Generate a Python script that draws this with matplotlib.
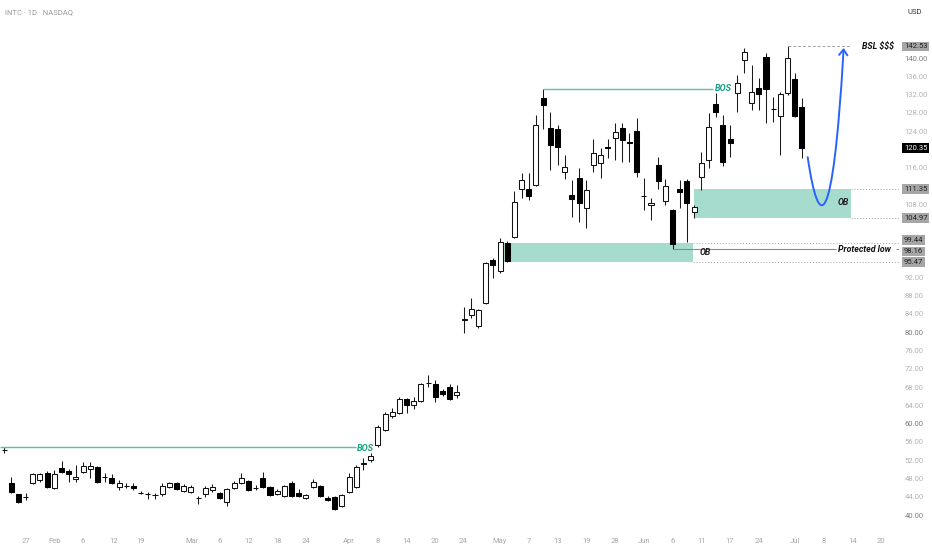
import matplotlib.pyplot as plt
import matplotlib.transforms as mtransforms
from matplotlib.path import Path
from matplotlib.patches import FancyArrowPatch, Rectangle
import numpy as np

plt.rcParams['font.family'] = ['Roboto', 'DejaVu Sans']

# daily candles (bar index on x)
opens = [54.2, 47.01, 44.6, 43.9, 47.01, 47.67, 49.2, 45.91, 50.29, 49.63,
         47.88, 49.42, 50.07, 50.51, 48.4, 48.1, 46.13, 46.3, 46.35, 44.85,
         44.65, 44.3, 44.6, 46.13, 47.01, 45.26, 45.04, 43.7, 44.6, 45.48,
         44.82, 42.85, 45.91, 47.01, 47.45, 45.85, 48.1, 46.13, 44.6, 44.17,
         47.01, 44.82, 43.72, 46.13, 46.35, 43.72, 43.94, 41.97, 45.04, 46.13,
         51.1, 52.04, 55.32, 58.6, 61.67, 62.32, 65.39, 64.08, 64.95, 68.8,
         68.67, 67.14, 68.01, 66.26, 82.6, 83.77, 81.36, 86.39, 95.8, 93.39,
         99.44, 100.83, 111.33, 111.33, 112.21, 131.25, 124.68, 124.46, 115.05, 110.02,
         113.74, 107.18, 116.59, 117.02, 120.53, 122.49, 124.68, 121.62, 124.03, 109.85,
         107.83, 116.59, 108.71, 106.74, 111.33, 113.08, 106.3, 113.96, 117.68, 129.93,
         125.34, 122.28, 132.34, 139.56, 130.15, 133.44, 140.22, 128.9, 127.31, 132.34,
         135.4, 129.28]
highs = [54.9, 48.32, 44.7, 44.82, 49.2, 49.2, 49.63, 49.85, 51.82, 50.07,
         50.95, 51.6, 51.6, 50.73, 49.2, 48.98, 47.67, 47.0, 47.0, 45.2,
         45.0, 44.8, 47.0, 47.23, 47.23, 46.79, 46.57, 44.17, 46.35, 46.79,
         45.04, 45.91, 47.45, 49.2, 47.67, 46.57, 49.42, 46.35, 45.69, 46.57,
         47.45, 45.69, 44.6, 47.88, 46.57, 44.17, 44.17, 44.6, 49.2, 50.95,
         52.47, 53.57, 59.7, 62.54, 63.42, 65.82, 65.6, 65.82, 68.89, 70.64,
         69.54, 67.58, 68.67, 68.45, 85.52, 87.49, 85.0, 95.36, 96.24, 100.62,
         99.96, 110.9, 114.84, 114.84, 127.53, 133.22, 128.18, 125.34, 118.78, 113.3,
         115.93, 113.3, 122.28, 120.31, 122.28, 125.78, 125.78, 123.59, 126.87, 113.74,
         109.37, 118.34, 113.52, 106.9, 113.3, 113.52, 107.83, 119.43, 127.97, 132.34,
         127.53, 125.34, 136.28, 142.19, 138.47, 135.62, 141.09, 131.47, 132.56, 142.53,
         136.72, 131.25]
lows = [53.5, 44.82, 42.6, 43.29, 46.79, 47.23, 45.91, 45.69, 49.2, 47.23,
        47.23, 49.2, 48.1, 47.01, 47.2, 46.79, 45.48, 45.9, 45.48, 44.6,
        43.5, 43.5, 44.17, 45.91, 45.48, 45.04, 44.82, 42.41, 43.94, 45.04,
        43.5, 41.97, 45.69, 46.79, 45.26, 45.48, 45.91, 44.17, 44.38, 43.94,
        43.94, 43.94, 43.5, 45.91, 43.94, 43.07, 41.1, 41.75, 44.82, 45.91,
        49.85, 51.6, 54.88, 58.38, 61.23, 62.1, 62.32, 63.2, 64.73, 68.01,
        64.73, 66.04, 65.17, 65.6, 79.83, 83.11, 80.92, 86.17, 91.86, 92.96,
        95.47, 100.62, 109.37, 108.93, 111.99, 124.46, 115.49, 116.59, 113.52, 105.21,
        104.12, 102.8, 115.05, 113.74, 118.12, 117.68, 117.24, 117.24, 113.96, 106.74,
        104.55, 111.33, 107.83, 98.16, 107.18, 99.74, 104.97, 111.12, 115.93, 127.09,
        116.37, 118.34, 128.18, 136.72, 128.62, 128.62, 125.78, 126.0, 118.78, 131.9,
        127.09, 118.12]
closes = [54.3, 45.04, 42.85, 44.0, 48.98, 48.98, 46.13, 48.98, 49.42, 48.98,
          48.32, 50.73, 50.73, 47.23, 48.3, 47.01, 47.01, 46.4, 45.91, 44.78,
          44.55, 44.4, 46.35, 47.01, 45.69, 46.35, 46.13, 43.8, 45.91, 46.13,
          43.72, 45.69, 47.01, 48.1, 45.48, 45.95, 46.13, 44.38, 45.26, 46.35,
          44.17, 44.17, 44.38, 47.23, 44.17, 43.29, 41.32, 44.38, 48.32, 50.51,
          51.3, 52.91, 59.26, 62.1, 62.54, 65.39, 64.08, 64.95, 68.67, 68.9,
          65.82, 66.48, 65.39, 66.92, 82.8, 85.08, 84.86, 95.14, 94.71, 99.74,
          95.6, 108.49, 113.3, 109.8, 125.34, 129.72, 120.96, 120.53, 116.15, 109.15,
          108.27, 111.12, 119.21, 118.78, 120.31, 123.81, 122.06, 121.4, 115.05, 109.75,
          108.27, 113.08, 111.99, 99.3, 110.68, 108.27, 107.4, 117.02, 124.9, 128.18,
          117.24, 121.4, 134.53, 141.31, 132.56, 132.12, 133.22, 128.8, 132.12, 140.0,
          127.31, 120.35]

# date labels under the bars
date_ticks = [3, 7, 11, 15.2, 19, 26.1, 30, 34, 38, 42, 48, 52, 56, 60, 63.8,
              69, 73, 77, 81, 85, 89, 93, 97, 101, 105, 110, 114, 118, 122]
date_labels = ['27', 'Feb', '6', '12', '19', 'Mar', '6', '12', '18', '24', 'Apr', '8',
               '14', '20', '24', 'May', '7', '13', '19', '28', 'Jun', '6', '11', '17',
               '24', 'Jul', '8', '14', '20']

# price scale labels that stay visible next to the markers
price_ticks = [40, 44, 48, 52, 56, 60, 64, 68, 72, 76, 80, 84, 88, 92,
               108, 116, 124, 128, 132, 136, 140]

# levels drawn on the chart
bos_low = 54.88
bos_high = 133.22
ob_low = (95.47, 99.44)
ob_high = (104.97, 111.35)
protected_low = 98.16
bsl_level = 142.53
last_close = 120.35

# hand drawn projection (bar index, price) as cubic bezier
projection = [(111.8, 118.3), (113.3, 102.0), (115.3, 101.0), (116.8, 142.2)]

o = np.array(opens)
c = np.array(closes)
h = np.array(highs)
l = np.array(lows)
x = np.arange(len(o))
up = c >= o

fig = plt.figure(figsize=(9.32, 5.5), dpi=100)
ax = fig.add_axes([0, 20 / 550, 899 / 932, 530 / 550])
ax.set_xlim(-0.56, 124.5)
ax.set_ylim(36.73, 152.69)

# order blocks
ax.add_patch(Rectangle((69.6, ob_low[0]), 95.8 - 69.6, ob_low[1] - ob_low[0],
                       fc='#a6dccd', ec='none', zorder=2))
ax.add_patch(Rectangle((96.0, ob_high[0]), 117.8 - 96.0, ob_high[1] - ob_high[0],
                       fc='#a6dccd', ec='none', zorder=2))

# candles
ax.vlines(x, l, h, color='#1a1a1a', lw=0.75, zorder=3)
bottom = np.minimum(o, c)
height = np.maximum(np.abs(c - o), 0.12)
ax.bar(x[up], height[up], bottom=bottom[up], width=0.7, color='white',
       edgecolor='#111111', lw=0.75, zorder=4)
ax.bar(x[~up], height[~up], bottom=bottom[~up], width=0.7, color='black',
       edgecolor='black', lw=0.75, zorder=4)

# BOS lines
teal = '#5dbfae'
ax.hlines(bos_high, 75, 98.6, color=teal, lw=1, zorder=3)
ax.text(98.9, bos_high, 'BOS', color='#17a084', fontsize=6.5, weight='bold',
        style='italic', ha='left', va='center', zorder=5)
ax.hlines(bos_low, -0.6, 48.9, color=teal, lw=1, zorder=3)
ax.text(49.1, bos_low - 0.3, 'BOS', color='#17a084', fontsize=6.5, weight='bold',
        style='italic', ha='left', va='center', zorder=5)

# dotted extensions to the price scale
dot = dict(color='#a0a0a0', lw=0.7, ls=(0, (1, 2)), zorder=2)
ax.hlines(list(ob_high), 117.8, 124.5, **dot)
ax.hlines(list(ob_low), 95.8, 124.5, **dot)

# protected low
ax.hlines(protected_low, 93, 115.7, color='#8a8a8a', lw=0.8, zorder=3)
ax.hlines(protected_low, 124.1, 124.5, color='#8a8a8a', lw=0.8, zorder=3)
ax.text(116.0, protected_low, 'Protected low', fontsize=6.3, weight='bold',
        style='italic', ha='left', va='center', color='#111111', zorder=5)

# OB labels
ax.text(96.8, 97.55, 'OB', fontsize=6.3, weight='bold', style='italic',
        ha='left', va='center', color='#222222', zorder=5)
ax.text(116.8, 108.4, 'OB', fontsize=6.3, weight='bold', style='italic',
        ha='center', va='center', color='#222222', zorder=5)

# buy side liquidity
ax.hlines(bsl_level, 109, 117.7, color='#a0a0a0', lw=0.7, ls=(0, (3, 2)), zorder=3)
ax.text(119.3, bsl_level, 'BSL $$$', fontsize=6.3, weight='bold', style='italic',
        ha='left', va='center', color='#111111', zorder=5)

# projected move
path = Path(projection, [Path.MOVETO, Path.CURVE4, Path.CURVE4, Path.CURVE4])
arrow = FancyArrowPatch(path=path, arrowstyle='->,head_length=4,head_width=3',
                        color='#2962ff', lw=1.4, zorder=6)
ax.add_patch(arrow)

# axes styling
for s in ax.spines.values():
    s.set_visible(False)
ax.set_xticks(date_ticks, date_labels)
ax.tick_params(axis='x', length=0, pad=6, labelsize=5.5, labelcolor='#a8a8a8')

ax.yaxis.tick_right()
ax.set_yticks(price_ticks, [f'{v:.2f}' for v in price_ticks])
ax.tick_params(axis='y', length=0, pad=4, labelsize=5.5, labelcolor='#b4b4b4')
for v, lab in zip(price_ticks, ax.get_yticklabels()):
    if v % 20 == 0:
        lab.set_color('#7c7c7c')

# price scale markers (vertical nudge in points where they stack)
trans = mtransforms.blended_transform_factory(ax.transAxes, ax.transData)
marks = [(bsl_level, '#a6a6a6', '#222222', 0), (last_close, '#000000', '#ffffff', 0),
         (ob_high[1], '#a6a6a6', '#222222', 0), (ob_high[0], '#a6a6a6', '#222222', 0),
         (ob_low[1], '#a6a6a6', '#222222', 2.6), (protected_low, '#a6a6a6', '#222222', -1.6),
         (ob_low[0], '#a6a6a6', '#222222', -0.6)]
for val, bg, fg, dy in marks:
    ax.annotate(f'{val:.2f}', xy=(1.0056, val), xycoords=trans,
                xytext=(0, dy), textcoords='offset points', fontsize=5.5, color=fg,
                ha='left', va='center', annotation_clip=False, zorder=7,
                bbox=dict(boxstyle='square,pad=0.25', fc=bg, ec='none'))

fig.text(5 / 932, 1 - 12 / 550, 'INTC · 1D · NASDAQ', fontsize=5.5,
         color='#9a9a9a', ha='left', va='center')
fig.text(915 / 932, 1 - 12 / 550, 'USD', fontsize=5.5, color='#333333',
         ha='center', va='center')

fig.savefig('out.png', dpi=100)
